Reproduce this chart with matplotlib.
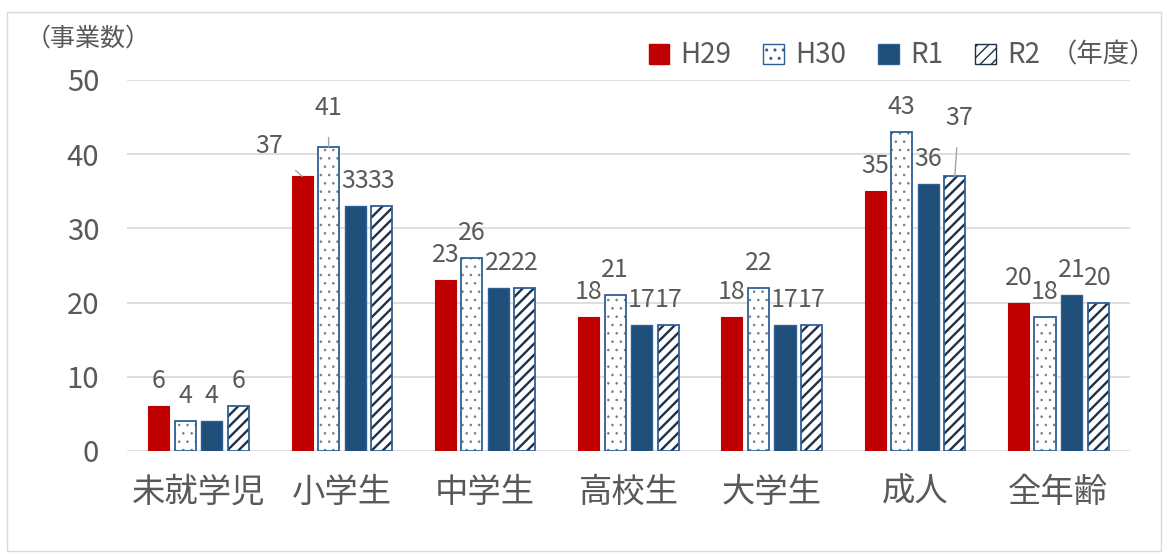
import matplotlib.pyplot as plt
import matplotlib.patches as mpatches
import numpy as np

# ── data ──
categories = ["未就学児", "小学生", "中学生", "高校生", "大学生", "成人", "全年齢"]
series_names = ["H29", "H30", "R1", "R2"]
h29 = [6, 37, 23, 18, 18, 35, 20]
h30 = [4, 41, 26, 21, 22, 43, 18]
r1 = [4, 33, 22, 17, 17, 36, 21]
r2 = [6, 33, 22, 17, 17, 37, 20]
yticks = [0, 10, 20, 30, 40, 50]

# ── style ──
plt.rcParams["font.family"] = ["Noto Sans CJK JP", "DejaVu Sans"]
TXT = "#595959"
GRID = "#d9d9d9"
RED = "#c00000"
NAVY = "#1f4e79"
EDGE = "#2e5f96"
HATCH_DARK = "#1f2f4a"
DOTS = "#7a7a7a"

BAR_W = 0.147
PITCH = 0.185

# label offsets in points (dx, dy) for labels moved off the default place
label_offsets = {(1, 0): (-24, 22), (1, 1): (0, 28), (5, 3): (3, 42)}
DEFAULT_DY = 18

fig = plt.figure(figsize=(11.68, 5.54), dpi=100)
fig.patches.append(mpatches.Rectangle((0.006, 0.006), 0.988, 0.972,
                                      transform=fig.transFigure, fill=False,
                                      edgecolor="#d9d9d9", linewidth=1))
ax = fig.add_axes([0.1087, 0.186, 0.8587, 0.6697])

x = np.arange(len(categories))
all_vals = [h29, h30, r1, r2]
offs = [(i - 1.5) * PITCH for i in range(4)]

# H29 solid red
ax.bar(x + offs[0], h29, BAR_W, color=RED, edgecolor=RED, linewidth=0.8, zorder=3)
# H30 dotted white
with plt.rc_context({"hatch.linewidth": 0.6}):
    ax.bar(x + offs[1], h30, BAR_W, color="white", edgecolor=DOTS,
           linewidth=0, hatch="..", zorder=3)
ax.bar(x + offs[1], h30, BAR_W, color="none", edgecolor=EDGE, linewidth=1.3, zorder=4)
# R1 solid navy
ax.bar(x + offs[2], r1, BAR_W, color=NAVY, edgecolor=EDGE, linewidth=1.0, zorder=3)
# R2 hatched
with plt.rc_context({"hatch.linewidth": 1.7}):
    ax.bar(x + offs[3], r2, BAR_W, color="white", edgecolor=HATCH_DARK,
           linewidth=0, hatch="///", zorder=3)
ax.bar(x + offs[3], r2, BAR_W, color="none", edgecolor=EDGE, linewidth=1.3, zorder=4)

# data labels
for si, vals in enumerate(all_vals):
    for ci, v in enumerate(vals):
        bx = x[ci] + offs[si]
        if (ci, si) in label_offsets:
            dx, dy = label_offsets[(ci, si)]
            ax.annotate(str(v), (bx, v), xytext=(dx, dy), textcoords="offset points",
                        ha="center", va="center", fontsize=18, color=TXT,
                        arrowprops=dict(arrowstyle="-", color="#a6a6a6", lw=1,
                                        shrinkA=10, shrinkB=0), zorder=5)
        else:
            ax.annotate(str(v), (bx, v), xytext=(0, DEFAULT_DY), textcoords="offset points",
                        ha="center", va="center", fontsize=18, color=TXT, zorder=5)

ax.set_xlim(-0.5, len(categories) - 0.5)
ax.set_ylim(0, 50)
ax.set_yticks(yticks)
ax.set_xticks(x)
ax.set_xticklabels(categories)
ax.tick_params(axis="x", length=0, pad=17, labelsize=24, labelcolor=TXT)
ax.tick_params(axis="y", length=0, pad=20, labelsize=21, labelcolor=TXT)
for sp in ax.spines.values():
    sp.set_visible(False)
ax.grid(axis="y", color=GRID, linewidth=1.2, zorder=0)
ax.set_axisbelow(True)

fig.text(0.022, 0.93, "（事業数）", fontsize=18, color=TXT, ha="left", va="center")

# legend
with plt.rc_context({"hatch.linewidth": 0.8}):
    handles = [
        mpatches.Patch(facecolor=RED, edgecolor=RED),
        mpatches.Patch(facecolor="white", edgecolor=EDGE, hatch=".."),
        mpatches.Patch(facecolor=NAVY, edgecolor=EDGE),
        mpatches.Patch(facecolor="white", edgecolor=HATCH_DARK, hatch="///"),
    ]
leg = fig.legend(handles, series_names, loc="center right",
                 bbox_to_anchor=(0.912, 0.9), ncol=4, frameon=False,
                 fontsize=20, labelcolor=TXT, handlelength=0.75, handleheight=0.75,
                 handletextpad=0.4, columnspacing=1.15)
fig.text(0.99, 0.9, "（年度）", fontsize=19, color=TXT, ha="right", va="center")

fig.savefig("out.png", dpi=100)
